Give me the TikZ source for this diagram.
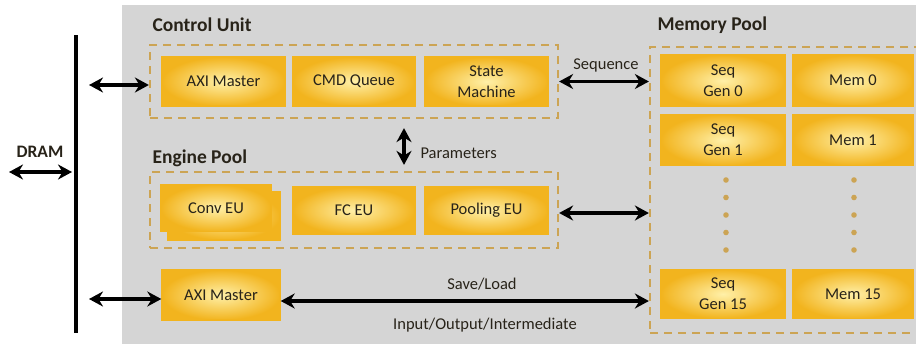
\documentclass[tikz,border=0pt]{standalone}
\usepackage{fontspec}
\setmainfont{Carlito}
\usepackage{tikz}
\usetikzlibrary{
    arrows.meta,
    positioning,
    calc
}
\definecolor{bgGrey}{RGB}{213,213,213}
\definecolor{unitGold}{RGB}{242,180,30}
\definecolor{unitLight}{RGB}{255,240,168}
\definecolor{poolTan}{RGB}{204,164,84}
\definecolor{txtDark}{RGB}{40,35,25}

\begin{document}
\begin{tikzpicture}[
    x=1pt,
    y=-1pt,
    unit/.style={
        draw=unitGold,
        line width=1.4pt,
        inner color=unitLight,
        outer color=unitGold,
        minimum width=123pt,
        minimum height=49pt,
        inner sep=0pt,
        align=center,
        text=txtDark,
        font=\fontsize{16.5}{21}\selectfont
    },
    pool/.style={
        draw=poolTan,
        line width=2.2pt,
        dash pattern=on 8pt off 6pt,
        inner sep=0pt
    },
    heading/.style={
        anchor=west,
        text=txtDark,
        font=\fontsize{19.5}{20}\selectfont\bfseries
    },
    caption/.style={
        text=txtDark,
        font=\fontsize{16.5}{18}\selectfont
    },
    busarrow/.style={
        {Stealth[length=14pt,width=15pt]}-{Stealth[length=14pt,width=15pt]},
        line width=3.6pt
    }
]

\clip (0,0) rectangle (916,343);
\fill[white] (0,0) rectangle (916,343);
\fill[bgGrey] (122,5) rectangle (930,350);

% =============================================================
% DRAM bus
% =============================================================
\coordinate (busTop) at (76,35);
\coordinate (busBot) at (76,333);
\draw[line width=3.4pt] (busTop) -- (busBot);

\node[
    font=\fontsize{17.5}{18}\selectfont\bfseries,
    text=txtDark
] (dram) at (40,152) {DRAM};

\coordinate (dramOut) at (9,172);
\coordinate (dramIn) at (72,172);
\draw[busarrow] (dramOut) -- (dramIn);

% =============================================================
% Control unit
% =============================================================
\node[heading] (cuTitle) at (149,25) {Control Unit};

\node[
    pool,
    minimum width=408pt,
    minimum height=73pt
] (cu) at (354,81.5) {};

\node[unit] (axiTop) at (223.5,81.5) {AXI Master};
\node[unit, minimum width=122pt] (cmdq) at (354,81.5) {CMD Queue};
\node[unit] (fsm) at (486.5,81.5) {State\\Machine};

\coordinate (cuTap) at (89,85);
\draw[busarrow] (cuTap) -- (cuTap -| cu.west);

% =============================================================
% Engine pool
% =============================================================
\node[heading] (epTitle) at (149,158) {Engine Pool};

\node[
    pool,
    minimum width=408pt,
    minimum height=76pt
] (ep) at (354,210) {};

\node[unit, minimum width=112pt, minimum height=48pt] (convBack) at (224,216) {};
\node[unit, minimum width=110pt, minimum height=47pt] (conv) at (216,208) {Conv EU};
\node[unit, minimum width=122pt, minimum height=47pt] (fc) at (354,210.5) {FC EU};
\node[unit, minimum height=47pt] (pool) at (486.5,210.5) {Pooling EU};

% Parameters between control unit and engine pool
\draw[
    busarrow,
    shorten <=9pt,
    shorten >=6pt
]
([xshift=50pt]cu.south) -- ([xshift=50pt]ep.north);

\node[caption, anchor=west] (params) at (417,153) {Parameters};

% =============================================================
% Memory pool
% =============================================================
\node[heading] (mpTitle) at (654,25) {Memory Pool};

\node[
    pool,
    minimum width=280pt,
    minimum height=286pt
] (mp) at (790,190) {};

\node[unit, minimum width=124pt, minimum height=51pt] (seq0) at (723,80.5) {Seq\\Gen 0};
\node[unit, minimum width=120pt, minimum height=51pt] (mem0) at (853,80.5) {Mem 0};
\node[unit, minimum width=124pt, minimum height=51pt] (seq1) at (723,140) {Seq\\Gen 1};
\node[unit, minimum width=120pt, minimum height=51pt] (mem1) at (853,140) {Mem 1};
\node[unit, minimum width=124pt, minimum height=49pt] (seq15) at (723,294) {Seq\\Gen 15};
\node[unit, minimum width=120pt, minimum height=49pt] (mem15) at (853,294) {Mem 15};

% Omitted entries 2..14
\foreach \y in {180,197.5,...,250}{
    \fill[poolTan] (726,\y) circle[radius=2.8pt];
    \fill[poolTan] (854,\y) circle[radius=2.8pt];
}

% =============================================================
% Links
% =============================================================
\draw[busarrow] (cu.east) -- (cu.east -| mp.west);
\node[caption] (seqLabel) at (606,65) {Sequence};

\draw[busarrow] ([yshift=-3pt]ep.east) -- ([yshift=-3pt]ep.east -| mp.west);

\node[unit, minimum width=118pt, minimum height=50pt] (axiBot) at (221,295) {AXI Master};

\coordinate (axiTap) at (89,299);
\draw[busarrow] (axiTap) -- (axiTap -| axiBot.west);

\draw[busarrow] ([yshift=-6pt]axiBot.east) -- ([yshift=-6pt]axiBot.east -| mp.west);
\node[caption] (saveLoad) at (482,284) {Save/Load};
\node[caption] (ioLabel) at (485,325) {Input/Output/Intermediate};

\end{tikzpicture}
\end{document}
